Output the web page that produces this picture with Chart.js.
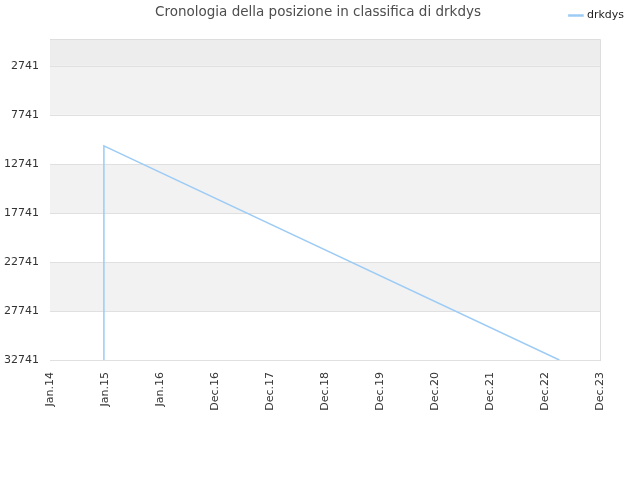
<!DOCTYPE html>
<html>
<head>
<meta charset="utf-8">
<script src="https://cdn.jsdelivr.net/npm/chart.js@4/dist/chart.umd.min.js"></script>
<style>
  html, body { margin: 0; padding: 0; background: #fff; }
</style>
</head>
<body>
<canvas id="myChart" width="640" height="480"></canvas>
<script>
let xLabels = ['Jan.14', 'Jan.15', 'Jan.16', 'Dec.16', 'Dec.17', 'Dec.18', 'Dec.19', 'Dec.20', 'Dec.21', 'Dec.22', 'Dec.23'];
let yTicks = [2741, 7741, 12741, 17741, 22741, 27741, 32741];
let pointX = [0.98, 0.98, 9.26];
let ranks = [32741, 10900, 32741];
let seriesName = 'drkdys';
let titleText = 'Cronologia della posizione in classifica di drkdys';

; ((D) => {
  let font = 'DejaVu Sans';
  let pts = [];
  for (let i = 0; i < ranks.length; i++) {
    pts.push({ x: pointX[i], y: ranks[i] });
  }

  // striped background, top/right frame, title, legend nudge
  let bands = {
    id: 'bands',
    afterLayout(chart) {
      let l = chart.legend;
      l.top -= 8; l.bottom -= 8;
      l.left += 32; l.right += 32;
    },
    beforeDatasetsDraw(chart) {
      let { ctx, chartArea: a, scales: { y } } = chart;
      let edges = [y.min].concat(yTicks);
      ctx.save();
      for (let i = 0; i < edges.length - 1; i++) {
        let y0 = y.getPixelForValue(edges[i]);
        let y1 = y.getPixelForValue(edges[i + 1]);
        ctx.fillStyle = i == 0 ? '#ededed' : (i % 2 ? '#f2f2f2' : '#ffffff');
        ctx.fillRect(a.left, y0, a.right - a.left, y1 - y0);
      }
      ctx.strokeStyle = '#e0e0e0';
      ctx.lineWidth = 1;
      for (const v of yTicks) {
        let p = Math.round(y.getPixelForValue(v)) + 0.5;
        ctx.beginPath();
        ctx.moveTo(a.left, p);
        ctx.lineTo(a.right, p);
        ctx.stroke();
      }
      ctx.strokeStyle = '#dddddd';
      ctx.beginPath();
      ctx.moveTo(a.left, Math.round(a.top) + 0.5);
      ctx.lineTo(Math.round(a.right) + 0.5, Math.round(a.top) + 0.5);
      ctx.lineTo(Math.round(a.right) + 0.5, a.bottom);
      ctx.stroke();
      ctx.restore();
    },
    afterDraw(chart) {
      let ctx = chart.ctx;
      ctx.save();
      ctx.font = '13.5px "' + font + '"';
      ctx.fillStyle = '#4d4d4d';
      ctx.textAlign = 'center';
      ctx.textBaseline = 'middle';
      ctx.fillText(titleText, 318, 12);
      ctx.restore();
    }
  };

  let ctx = D.querySelector('#myChart').getContext('2d');
  let chart = new Chart(ctx, {
    type: 'line',
    data: {
      datasets: [{
        label: seriesName,
        data: pts,
        borderColor: '#9ccbf5',
        backgroundColor: '#9ccbf5',
        borderWidth: 1.5,
        pointRadius: 0,
        tension: 0,
        fill: false,
      }],
    },
    options: {
      responsive: false,
      animation: false,
      devicePixelRatio: 1,
      layout: { padding: { left: 0, right: 40, top: 10, bottom: 0 } },
      plugins: {
        title: { display: false },
        tooltip: { enabled: false },
        legend: {
          position: 'top',
          align: 'end',
          labels: {
            usePointStyle: true,
            pointStyle: 'line',
            boxWidth: 11,
            boxHeight: 11,
            padding: 8,
            color: '#222',
            font: { family: font, size: 11 },
            generateLabels: c => {
              let items = Chart.defaults.plugins.legend.labels.generateLabels(c);
              for (const it of items) { it.lineWidth = 2.5; it.strokeStyle = '#9ccbf5'; }
              return items;
            },
          },
        },
      },
      scales: {
        x: {
          type: 'linear',
          min: 0,
          max: 10,
          grid: { display: false, drawTicks: false },
          border: { display: true, color: '#dddddd' },
          ticks: {
            stepSize: 1,
            autoSkip: false,
            minRotation: 90,
            maxRotation: 90,
            padding: 12,
            color: '#333',
            font: { family: font, size: 11 },
            callback: v => xLabels[v],
          },
          afterFit: s => { s.height = 120; },
        },
        y: {
          reverse: true,
          min: 0,
          max: 32741,
          grid: { display: false, drawTicks: false },
          border: { display: true, color: '#dddddd' },
          ticks: {
            padding: 11,
            color: '#333',
            font: { family: font, size: 11 },
            callback: v => String(v),
          },
          afterBuildTicks: s => { s.ticks = yTicks.map(v => ({ value: v })); },
          afterFit: s => { s.width = 50; },
        },
      },
    },
    plugins: [bands],
  });
})(document)
</script>
</body>
</html>
